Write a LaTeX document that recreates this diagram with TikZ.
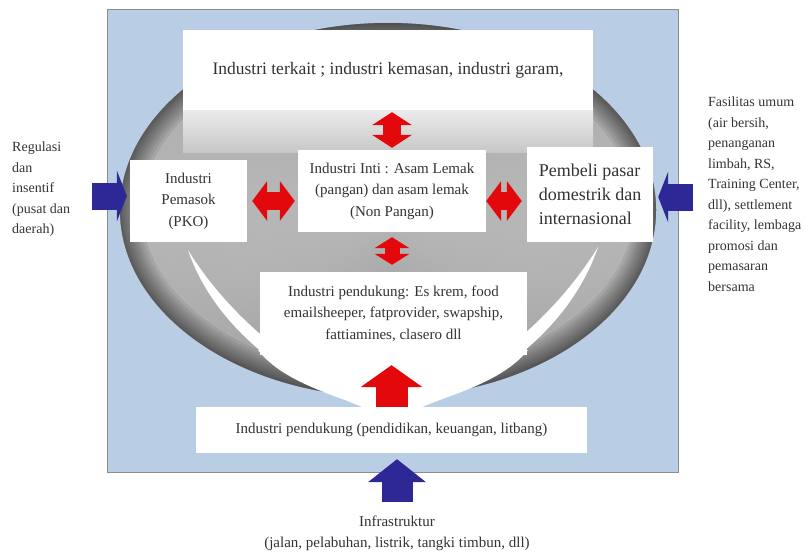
\documentclass[tikz,border=0pt]{standalone}
\usepackage{fontspec}
\setmainfont{Liberation Serif}
\usetikzlibrary{arrows.meta}

\definecolor{bgblue}{RGB}{185,205,228}
\definecolor{boxred}{RGB}{226,8,12}
\definecolor{boxblue}{RGB}{46,40,150}
\pgfdeclareradialshading{bowl}{\pgfpoint{0bp}{0bp}}{%
  color(0bp)=(black!22); color(15bp)=(black!35); color(26bp)=(black!46);
  color(31bp)=(black!60); color(35.4bp)=(black!80); color(50bp)=(black!80)}

\begin{document}
\begin{tikzpicture}[x=1pt, y=-1pt,
        box/.style={
        fill=white, inner sep=0pt, align=center,
        text=black!80, font=\fontsize{15}{21.5}\selectfont},
        side/.style={
        inner sep=0pt, align=left, anchor=north west,
        text=black!80, font=\fontsize{14}{20.5}\selectfont},
        rim/.style={draw=black!80, opacity=0.1},
        redlr/.style={draw=boxred, line width=18pt,
        {Triangle[length=15pt,width=40pt,line width=0pt]}-{Triangle[length=15pt,width=40pt,line width=0pt]}},
        redud/.style={draw=boxred, line width=18pt,
        {Triangle[length=13pt,width=40pt,line width=0pt]}-{Triangle[length=13pt,width=40pt,line width=0pt]}},
        redsmall/.style={draw=boxred, line width=15pt,
        {Triangle[length=11pt,width=35pt,line width=0pt]}-{Triangle[length=11pt,width=35pt,line width=0pt]}},
        redup/.style={draw=boxred, line width=32pt,
        -{Triangle[length=22pt,width=62pt,line width=0pt]}},
        blueup/.style={draw=boxblue, line width=31pt,
        -{Triangle[length=23pt,width=58pt,line width=0pt]}},
        blueside/.style={draw=boxblue, line width=27pt,
        -{Triangle[length=10pt,width=51pt,line width=0pt]}},
        ]

        \useasboundingbox (0,0) rectangle (810,554);

        \draw[black!45, fill=bgblue] (107,9) rectangle (678,472);
        \shade[shading=bowl] (388,210) ellipse [x radius=268pt, y radius=187pt];
        \begin{scope}
            \clip (388,210) ellipse [x radius=268pt, y radius=187pt];
            \shade[left color=white, right color=white, middle color=black!40, opacity=0.35]
                (120,20) rectangle (656,400);
            \foreach \w in {44,38,32,27,22,17,13,9,6,3}
                \draw[rim, line width=\w pt] (388,210) ellipse [x radius=268pt, y radius=187pt];
        \end{scope}
        \shade[top color=black!7, bottom color=black!22] (183,108) rectangle (593,152);

        \fill[white] (188,250) .. controls (215,330) and (300,395) .. (385,409)
                .. controls (310,382) and (232,322) .. (188,250) -- cycle;
        \fill[white] (598,247) .. controls (570,330) and (485,395) .. (400,409)
                .. controls (475,382) and (552,322) .. (598,247) -- cycle;
        \fill[white] (258,350) .. controls (285,385) and (345,397) .. (368,410)
                -- (416,410) .. controls (440,397) and (500,385) .. (528,350) -- cycle;

        \node (terkait) [box, minimum width=410pt, minimum height=80pt,
                font=\fontsize{17.5}{21}\selectfont] at (388,70)
                {Industri terkait ; industri kemasan, industri garam,};
        \node (pemasok) [box, minimum width=117pt, minimum height=82pt] at (188.5,201)
                {Industri\\Pemasok\\(PKO)};
        \node (inti) [box, minimum width=188pt, minimum height=82pt] at (392,191)
                {Industri Inti : Asam Lemak\\(pangan) dan asam lemak\\(Non Pangan)};
        \node (pembeli) [box, align=left, minimum width=126pt, minimum height=95pt,
                font=\fontsize{18}{24}\selectfont] at (590,194.5)
                {Pembeli pasar\\domestrik dan\\internasional};
        \node (pendukung) [box, minimum width=267pt, minimum height=83pt] at (393.5,313.5)
                {Industri pendukung: Es krem, food\\emailsheeper, fatprovider, swapship,\\fattiamines, clasero dll};
        \node (dasar) [box, minimum width=391pt, minimum height=46pt] at (391.5,430)
                {Industri pendukung (pendidikan, keuangan, litbang)};

        \node (regulasi) [side] at (12,142) {Regulasi\\dan\\insentif\\(pusat dan\\daerah)};
        \node (fasilitas) [side] at (708,97) {Fasilitas umum\\(air bersih,\\penanganan\\limbah, RS,\\Training Center,\\dll), settlement\\facility, lembaga\\promosi dan\\pemasaran\\bersama};
        \node (infra) [inner sep=0pt, align=center, text=black!80,
                font=\fontsize{15}{21}\selectfont] at (397,533)
                {Infrastruktur\\(jalan, pelabuhan, listrik, tangki timbun, dll)};

        \coordinate (kiri) at (92,196);
        \coordinate (kanan) at (693,197);

        \draw[redud, shorten <=2pt, shorten >=2pt] (inti.north |- terkait.south) -- (inti.north);
        \draw[redlr, shorten <=5pt, shorten >=3pt] (pemasok.east) -- (pemasok.east -| inti.west);
        \draw[redlr, shorten >=5pt] (inti.east |- pemasok.east) -- (pembeli.west |- pemasok.east);
        \draw[redsmall, shorten <=5pt, shorten >=7pt] (inti.south) -- (inti.south |- pendukung.north);
        \draw[redup, shorten >=10pt] (dasar.north) -- (dasar.north |- pendukung.south);
        \draw[blueup, shorten <=13pt, shorten >=6pt] (infra.north) -- (infra.north |- dasar.south);
        \draw[blueside, shorten >=3pt] (kiri) -- (kiri -| pemasok.west);
        \draw[blueside, shorten >=5pt] (kanan) -- (kanan -| pembeli.east);
    \end{tikzpicture}
\end{document}
